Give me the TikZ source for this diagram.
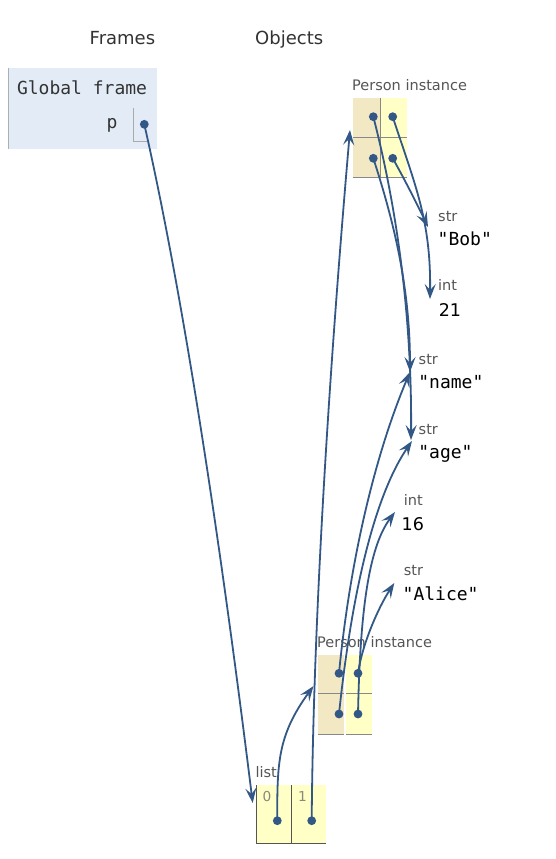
\documentclass[tikz,border=0pt]{standalone}
\usepackage{fontspec}
\setmainfont{DejaVu Sans}
\newfontfamily\monof{DejaVu Sans Mono}
\usetikzlibrary{arrows.meta}
\definecolor{arr}{HTML}{335886}
\definecolor{framebg}{HTML}{E2EBF6}
\definecolor{framebd}{HTML}{A6B3B6}
\definecolor{keybg}{HTML}{F2E8C4}
\definecolor{valbg}{HTML}{FFFFC6}
\definecolor{typegray}{HTML}{555555}
\definecolor{hdrgray}{HTML}{333333}
\definecolor{cellline}{HTML}{888888}
\definecolor{listline}{HTML}{555555}
\definecolor{ptrline}{HTML}{AAAAAA}
\definecolor{idxgray}{HTML}{888880}
\begin{document}
\begin{tikzpicture}[x=1pt,y=-1pt,
  hdr/.style={font=\fontsize{18}{20}\selectfont, text=hdrgray, inner sep=0pt, anchor=base west},
  framehdr/.style={font=\monof\fontsize{18}{20}\selectfont, text=hdrgray, inner sep=0pt, anchor=base west},
  typelbl/.style={font=\fontsize{14.5}{16}\selectfont, text=typegray, inner sep=0pt, anchor=base west},
  idxlbl/.style={font=\fontsize{13.7}{15}\selectfont, text=idxgray, inner sep=0pt, anchor=base west},
  strval/.style={font=\monof\fontsize{18}{20}\selectfont, text=black, inner sep=0pt, anchor=base west},
  numval/.style={font=\fontsize{17.5}{20}\selectfont, text=black, inner sep=0pt, anchor=base west},
  ptr/.style={draw=arr, line width=1.8pt, -{Stealth[length=15pt,width=11pt,inset=6pt]}},
  dotmark/.style={circle, fill=arr, inner sep=0pt, minimum size=8.8pt}
]
\useasboundingbox (0,0) rectangle (556,859);
\fill[white] (0,0) rectangle (556,859);

% headers
\node[hdr] (frames) at (89.5,45) {Frames};
\node[hdr] (objects) at (255,45) {Objects};

% global frame
\fill[framebg] (8.3,68.3) rectangle (156.7,149.3);
\draw[framebd, line width=1pt] (8.3,68.3) -- (8.3,149.3);
\node[framehdr] (gf) at (16.8,94.3) {Global frame};
\node[framehdr] (pvar) at (106.3,128) {p};
\draw[ptrline, line width=1pt] (133.3,108.3) -- (133.3,141) -- (146.7,141);
\coordinate (pdot) at (144.3,124.3);

% Person instance 1
\node[typelbl] (pi1) at (352,90.7) {Person instance};
\fill[keybg] (352.7,97.7) rectangle (380,177.3);
\fill[valbg] (380,97.7) rectangle (406.7,177.3);
\draw[cellline, line width=1pt] (352.7,137.7) -- (406.7,137.7);
\draw[cellline, line width=1pt] (352.7,177.3) -- (406.7,177.3);
\draw[cellline, line width=1pt] (380,97.7) -- (380,177.3);
\coordinate (k1a) at (373.3,116.7);
\coordinate (v1a) at (392.7,116.7);
\coordinate (k1b) at (373.3,158.3);
\coordinate (v1b) at (392.7,158.3);

% primitives
\node[typelbl] (tBob) at (438,221.7) {str};
\node[strval] (vBob) at (437.5,245) {"Bob"};
\node[typelbl] (t21) at (438,290.7) {int};
\node[numval] (v21) at (438.6,316) {21};
\node[typelbl] (tName) at (418.5,364) {str};
\node[strval] (vName) at (418.2,388.3) {"name"};
\node[typelbl] (tAge) at (418.5,434) {str};
\node[strval] (vAge) at (418.2,458.3) {"age"};
\node[typelbl] (t16) at (403.6,505) {int};
\node[numval] (v16) at (401.5,530) {16};
\node[typelbl] (tAlice) at (403.6,575) {str};
\node[strval] (vAlice) at (402.5,600) {"Alice"};

% Person instance 2
\node[typelbl] (pi2) at (317,647.3) {Person instance};
\fill[keybg] (317.7,655) rectangle (344.3,734);
\fill[valbg] (345.7,655) rectangle (371.7,734);
\draw[cellline, line width=1pt] (317.7,693.3) -- (344.3,693.3) (345.7,693.3) -- (371.7,693.3);
\draw[cellline, line width=1pt] (317.7,734) -- (344.3,734) (345.7,734) -- (371.7,734);
\coordinate (k2a) at (339,673.3);
\coordinate (v2a) at (358,673.3);
\coordinate (k2b) at (339,714);
\coordinate (v2b) at (358,714);

% list
\node[typelbl] (listlbl) at (255.3,777.3) {list};
\fill[valbg] (256.7,785) rectangle (326,843.3);
\draw[listline, line width=1pt] (256.7,785) -- (256.7,843.3) -- (326,843.3);
\draw[listline, line width=1pt] (291,785) -- (291,843.3);
\node[idxlbl] (idx0) at (262.4,801.7) {0};
\node[idxlbl] (idx1) at (297.8,801.7) {1};
\coordinate (l0) at (277.3,820.7);
\coordinate (l1) at (311.7,820.7);

% arrow targets
\coordinate (tList) at (252.7,803);
\coordinate (tInst2) at (313.5,686);
\coordinate (tInst1) at (350,130);
\coordinate (tAgeA) at (411,440);
\coordinate (tNameA) at (410,372);
\coordinate (tIntA) at (430,299);
\coordinate (tBobA) at (428,227);
\coordinate (tNameB) at (410,372);
\coordinate (tAgeB) at (412,441);
\coordinate (tIntB) at (395,512);
\coordinate (tAliceB) at (394.3,583);

% connectors
\draw[ptr] (pdot) .. controls (190,326) and (228,603) .. (tList);
\draw[ptr] (l0) .. controls (277,762) and (278,735) .. (tInst2);
\draw[ptr] (l1) .. controls (313,650) and (325,420) .. (tInst1);
\draw[ptr] (k1a) .. controls (400,220) and (412,330) .. (tAgeA);
\draw[ptr] (k1b) .. controls (395,225) and (410,290) .. (tNameA);
\draw[ptr] (v1a) .. controls (415,185) and (431,220) .. (tIntA);
\draw[ptr] (v1b) .. controls (405,180) and (419,208) .. (tBobA);
\draw[ptr] (k2a) .. controls (350,560) and (375,455) .. (tNameB);
\draw[ptr] (k2b) .. controls (352,590) and (375,495) .. (tAgeB);
\draw[ptr] (v2b) .. controls (360,615) and (368,548) .. (tIntB);
\draw[ptr] (v2a) .. controls (362,645) and (378,608) .. (tAliceB);

% dots
\foreach \d in {pdot,k1a,v1a,k1b,v1b,k2a,v2a,k2b,v2b,l0,l1}
  \node[dotmark] at (\d) {};
\end{tikzpicture}
\end{document}
